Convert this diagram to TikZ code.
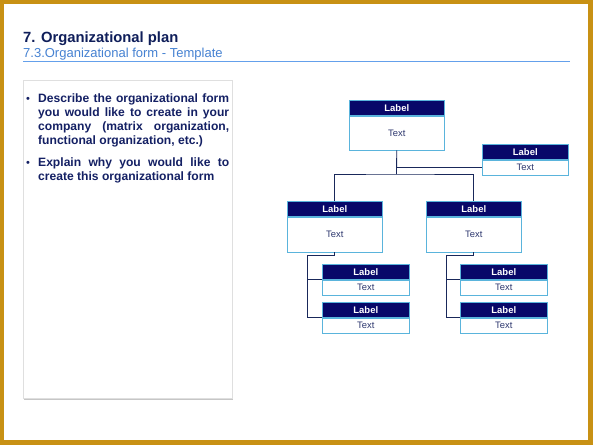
\documentclass[tikz,border=0pt]{standalone}
\usepackage{fontspec}
\setmainfont{Liberation Sans}
\usetikzlibrary{shadows}
\definecolor{gold}{RGB}{200,145,20}
\definecolor{navyhdr}{RGB}{8,8,105}
\definecolor{titlenavy}{RGB}{15,30,90}
\definecolor{bultext}{RGB}{20,32,100}
\definecolor{subblue}{RGB}{70,130,210}
\definecolor{linelblue}{RGB}{100,160,235}
\definecolor{boxcyan}{RGB}{90,180,220}
\definecolor{conncol}{RGB}{25,40,90}
\definecolor{bodytext}{RGB}{45,55,110}
\newcommand{\orgbox}[6]{%
  \node[hdr, minimum width=#4, minimum height=#5, anchor=north west] (#1h) at (#2,#3) {Label};
  \node[bodyb, minimum width=#4, minimum height=#6, anchor=north] (#1b) at (#1h.south) {Text};
}
\begin{document}
\begin{tikzpicture}[x=1pt,y=-1pt,
  hdr/.style={fill=navyhdr, draw=boxcyan, line width=0.6pt, text=white, inner sep=0pt,
    font=\bfseries\fontsize{9.5}{11}\selectfont},
  bodyb/.style={fill=white, draw=boxcyan, line width=0.8pt, text=bodytext, inner sep=0pt,
    font=\fontsize{9.4}{11}\selectfont,
    drop shadow={shadow xshift=1pt, shadow yshift=-1.2pt, opacity=0.3}},
  conn/.style={draw=conncol, line width=0.8pt},
  bline/.style={anchor=base west, inner sep=0pt, text=bultext,
    font=\bfseries\fontsize{12.1}{14}\selectfont},
  bdot/.style={anchor=base west, inner sep=0pt, text=bultext,
    font=\fontsize{11}{13}\selectfont}
]
\useasboundingbox (0,0) rectangle (593,445);
\fill[gold] (0,0) rectangle (593,445);
\fill[white] (4,4) rectangle (588,440);

% title
\node[anchor=base west, inner sep=0pt, text=titlenavy, font=\bfseries\fontsize{14.8}{17}\selectfont] (title) at (23,42) {7. Organizational plan};
\node[anchor=base west, inner sep=0pt, text=subblue, font=\fontsize{13}{15}\selectfont] (subtitle) at (23,57) {7.3.Organizational form - Template};
\fill[linelblue] (23,60.8) rectangle (570,62.4);

% left panel
\fill[gray!45] (24,396.5) rectangle (232.5,400);
\draw[gray!25, fill=white, line width=0.6pt] (23,80) rectangle (232,398);

\node[bdot] (d1) at (26,102) {•};
\node[bline] (t1) at (38,102) {\hbox to 191pt{Describe\hfill the\hfill organizational\hfill form}};
\node[bline] (t2) at (38,116) {\hbox to 191pt{you\hfill would\hfill like\hfill to\hfill create\hfill in\hfill your}};
\node[bline] (t3) at (38,130) {\hbox to 191pt{company\hfill (matrix\hfill organization,}};
\node[bline] (t4) at (38,144) {functional organization, etc.)};
\node[bdot] (d2) at (26,166) {•};
\node[bline] (t5) at (38,166) {\hbox to 191pt{Explain\hfill why\hfill you\hfill would\hfill like\hfill to}};
\node[bline] (t6) at (38,180) {create this organizational form};

% org chart boxes
\orgbox{top}{349}{100}{95pt}{15pt}{34pt}
\orgbox{as}{482}{144}{86pt}{15pt}{15pt}
\orgbox{lL}{287}{201}{95pt}{15pt}{35pt}
\orgbox{lR}{426}{201}{95pt}{15pt}{35pt}
\orgbox{aA}{322}{264}{87pt}{15pt}{15pt}
\orgbox{aB}{322}{302}{87pt}{15pt}{15pt}
\orgbox{bA}{460}{264}{87pt}{15pt}{15pt}
\orgbox{bB}{460}{302}{87pt}{15pt}{15pt}

% connectors
\coordinate (bar) at (396.5,174);
\coordinate (thk) at (396.5,158);
\coordinate (gL) at (307,255);
\coordinate (gR) at (446,255);
\draw[conn] (topb.south) -- (bar);
\draw[conn, line width=1.6pt] (thk) -- (bar);
\draw[conn] (topb.south |- asb.west) -- (asb.west);
\draw[conn] (lLh.north) |- (bar) -| (lRh.north);
\draw[conn] (lLb.south) |- (gL) |- (aBh.south west);
\draw[conn] (gL |- aAh.south west) -- (aAh.south west);
\draw[conn] (lRb.south) |- (gR) |- (bBh.south west);
\draw[conn] (gR |- bAh.south west) -- (bAh.south west);
\end{tikzpicture}
\end{document}
